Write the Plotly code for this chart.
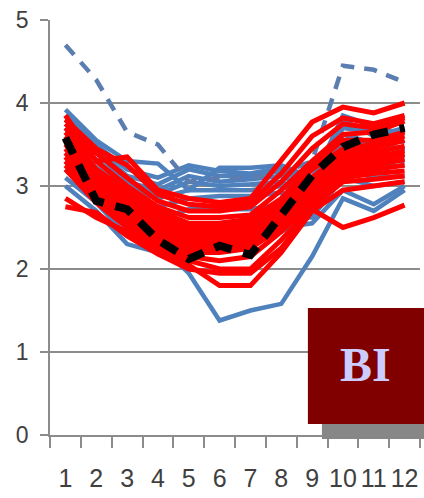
import plotly.graph_objects as go

months = ["1", "2", "3", "4", "5", "6", "7", "8", "9", "10", "11", "12"]
y_ticks = [0, 1, 2, 3, 4, 5]

# Individual station curves (blue group)
blue_series = [
    [3.92, 3.55, 3.30, 3.27, 2.95, 3.22, 3.22, 3.25, 3.10, 3.80, 3.60, 3.70],
    [3.85, 3.50, 3.20, 3.10, 3.25, 3.18, 3.15, 3.22, 3.05, 3.85, 3.72, 3.62],
    [3.80, 3.45, 3.12, 3.02, 3.20, 3.12, 3.12, 3.18, 3.00, 3.70, 3.65, 3.52],
    [3.70, 3.40, 3.05, 2.95, 3.12, 3.05, 3.08, 3.12, 2.95, 3.62, 3.52, 3.42],
    [3.60, 3.32, 3.00, 2.90, 3.05, 3.00, 3.02, 3.05, 2.90, 3.52, 3.42, 3.35],
    [3.50, 3.22, 2.95, 2.85, 2.95, 2.95, 2.95, 3.00, 2.85, 3.42, 3.32, 3.30],
    [3.40, 3.12, 2.85, 2.75, 2.85, 2.88, 2.88, 2.92, 2.80, 3.32, 3.22, 3.25],
    [3.30, 3.00, 2.70, 2.60, 2.72, 2.72, 2.72, 2.78, 2.72, 3.22, 3.10, 3.12],
    [3.20, 2.90, 2.50, 2.40, 2.55, 2.55, 2.60, 2.62, 2.62, 3.10, 3.00, 3.05],
    [3.10, 2.80, 2.40, 2.30, 2.40, 2.40, 2.45, 2.50, 2.55, 2.95, 2.78, 3.00],
    [3.00, 2.70, 2.30, 2.20, 2.30, 2.30, 2.30, 2.45, 2.65, 3.55, 3.50, 3.45],
    [3.70, 3.20, 2.70, 2.30, 1.95, 1.38, 1.50, 1.58, 2.15, 2.85, 2.70, 2.95],
]

# Outlying station (blue dashed)
blue_dashed = [4.70, 4.28, 3.65, 3.50, 3.05, 3.10, 3.10, 3.15, 3.30, 4.45, 4.40, 4.25]

# Individual station curves (red group)
red_series = [
    [3.85, 3.30, 3.35, 2.95, 2.85, 2.80, 2.85, 3.30, 3.77, 3.95, 3.88, 4.00],
    [3.80, 3.45, 3.25, 2.90, 2.78, 2.75, 2.80, 3.15, 3.60, 3.82, 3.75, 3.85],
    [3.75, 3.40, 3.10, 2.82, 2.70, 2.70, 2.75, 3.05, 3.45, 3.75, 3.70, 3.82],
    [3.70, 3.30, 3.00, 2.75, 2.62, 2.62, 2.65, 2.95, 3.30, 3.62, 3.65, 3.78],
    [3.65, 3.20, 2.95, 2.70, 2.55, 2.55, 2.60, 2.85, 3.25, 3.55, 3.55, 3.65],
    [3.60, 3.15, 2.90, 2.65, 2.50, 2.50, 2.55, 2.80, 3.20, 3.45, 3.50, 3.60],
    [3.55, 3.10, 2.85, 2.60, 2.45, 2.45, 2.50, 2.75, 3.10, 3.40, 3.45, 3.55],
    [3.50, 3.05, 2.80, 2.55, 2.40, 2.40, 2.45, 2.70, 3.05, 3.35, 3.40, 3.48],
    [3.45, 3.00, 2.75, 2.50, 2.35, 2.35, 2.40, 2.65, 3.00, 3.30, 3.35, 3.42],
    [3.40, 2.95, 2.70, 2.45, 2.30, 2.30, 2.35, 2.60, 2.95, 3.25, 3.30, 3.38],
    [3.35, 2.90, 2.65, 2.40, 2.25, 2.25, 2.30, 2.55, 2.90, 3.20, 3.25, 3.32],
    [3.30, 2.85, 2.60, 2.35, 2.20, 2.20, 2.25, 2.50, 2.85, 3.15, 3.20, 3.25],
    [3.25, 2.85, 2.55, 2.30, 2.15, 2.10, 2.15, 2.45, 2.80, 3.10, 3.15, 3.18],
    [3.20, 2.80, 2.50, 2.25, 2.10, 2.00, 2.00, 2.35, 2.75, 3.05, 3.08, 3.12],
    [2.85, 2.62, 2.45, 2.20, 2.05, 1.80, 1.80, 2.20, 2.70, 2.95, 3.00, 3.05],
    [2.75, 2.68, 2.40, 2.18, 2.00, 1.95, 1.95, 2.25, 2.72, 2.50, 2.62, 2.77],
]

# Ensemble mean (black dashed)
mean_series = [3.58, 2.82, 2.72, 2.35, 2.12, 2.28, 2.17, 2.65, 3.13, 3.47, 3.62, 3.70]

BLUE = "#4F81BD"
BLUE_DASH = "#5B7DB0"
RED = "#FF0000"
GRID = "#8C8C8C"
TEXT = "#404040"

fig = go.Figure()

for s in blue_series:
    fig.add_trace(go.Scatter(x=months, y=s, mode="lines",
                             line=dict(color=BLUE, width=4.5)))

fig.add_trace(go.Scatter(x=months, y=blue_dashed, mode="lines",
                         line=dict(color=BLUE_DASH, width=4.5, dash="13px,10px")))

for s in red_series:
    fig.add_trace(go.Scatter(x=months, y=s, mode="lines",
                             line=dict(color=RED, width=5)))

fig.add_trace(go.Scatter(x=months, y=mean_series, mode="lines",
                         line=dict(color="#000000", width=8, dash="18px,12px")))

# Label box in the lower-right corner with a drop shadow
fig.add_shape(type="rect", xref="paper", yref="paper",
              x0=0.735, x1=1.02, y0=-0.0096, y1=0.03,
              fillcolor="#878787", line=dict(width=0), layer="above")
fig.add_shape(type="rect", xref="paper", yref="paper",
              x0=0.697, x1=1.02, y0=0.0265, y1=0.306,
              fillcolor="#800000", line=dict(width=0), layer="above")
fig.add_annotation(text="<b>BI</b>", xref="paper", yref="paper",
                   x=0.854, y=0.17, xanchor="center", yanchor="middle",
                   showarrow=False,
                   font=dict(family="Liberation Serif, Times New Roman, serif",
                             size=48, color="#CCCCFF"))

fig.update_layout(
    width=424, height=498,
    margin=dict(l=50, r=4, t=20, b=63, autoexpand=False),
    paper_bgcolor="white", plot_bgcolor="white",
    showlegend=False,
    font=dict(family="Liberation Sans, Arial, sans-serif", color=TEXT),
    xaxis=dict(
        type="category", tickson="boundaries", range=[-0.5, 11.5],
        tickmode="array", tickvals=months, ticktext=months, tickangle=0,
        automargin=False,
        ticks="outside", ticklen=11, tickwidth=1.5, tickcolor=GRID,
        showline=True, linecolor=GRID, linewidth=1.5,
        showgrid=False, tickfont=dict(size=25), ticklabelstandoff=20,
    ),
    yaxis=dict(
        range=[0, 5], tickvals=y_ticks, automargin=False,
        ticks="outside", ticklen=8, tickwidth=1.5, tickcolor=GRID,
        showline=True, linecolor=GRID, linewidth=1.5,
        showgrid=True, gridcolor=GRID, gridwidth=1.5,
        zeroline=False, tickfont=dict(size=23), ticklabelstandoff=7,
    ),
)

fig.write_html("out.html")
